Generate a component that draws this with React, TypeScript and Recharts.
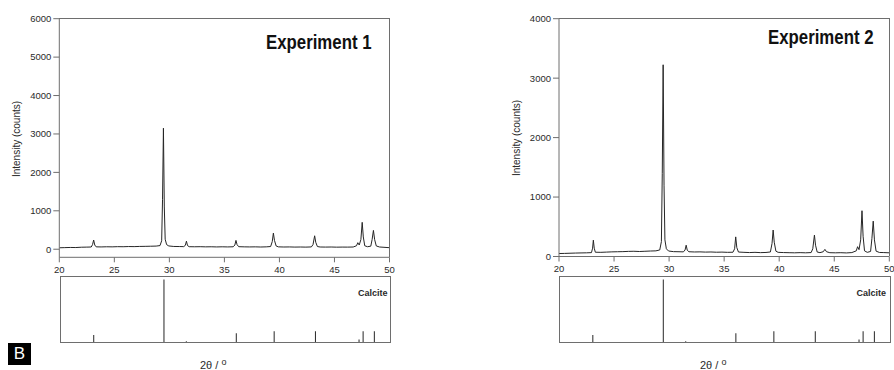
import React from "react";
import { LineChart, Line, XAxis, YAxis, ComposedChart, Bar } from "recharts";

const FONT = '"Liberation Sans", Arial, Helvetica, sans-serif';
const AXIS = "#6e6e6e";
const TRACE = "#262626";
const TEXT = "#2a2a2a";

// 2-theta ticks shared by both diffractograms
const twoThetaTicks = [20, 25, 30, 35, 40, 45, 50];
const exp1YTicks = [0, 1000, 2000, 3000, 4000, 5000, 6000];
const exp2YTicks = [0, 1000, 2000, 3000, 4000];

// [2theta, counts]
const exp1Trace: [number, number][] = [
  [20.0, 38], [20.5, 42], [21.0, 46], [21.5, 44], [22.0, 52], [22.5, 55], [22.9, 58],
  [23.02, 120], [23.12, 240], [23.22, 110], [23.35, 62], [23.8, 60], [24.3, 64], [24.8, 62],
  [25.3, 67], [25.8, 65], [26.3, 70], [26.8, 68], [27.3, 73], [27.8, 75], [28.3, 78], [28.8, 82],
  [29.15, 95], [29.3, 220], [29.38, 1300], [29.46, 3150], [29.54, 1100], [29.62, 260], [29.75, 120],
  [29.95, 85], [30.4, 72], [30.9, 70], [31.3, 68], [31.45, 100], [31.55, 210], [31.65, 95],
  [31.8, 66], [32.3, 64], [32.8, 66], [33.3, 62], [33.8, 64], [34.3, 60], [34.8, 63], [35.3, 60],
  [35.8, 64], [35.95, 110], [36.05, 230], [36.15, 120], [36.3, 66], [36.8, 62], [37.3, 60],
  [37.8, 62], [38.3, 58], [38.8, 62], [39.2, 70], [39.35, 200], [39.45, 420], [39.55, 230],
  [39.7, 85], [39.9, 62], [40.4, 58], [40.9, 60], [41.4, 56], [41.9, 58], [42.4, 55], [42.9, 60],
  [43.05, 120], [43.2, 350], [43.3, 180], [43.45, 70], [43.7, 58], [44.2, 56], [44.7, 58],
  [45.2, 54], [45.7, 56], [46.2, 55], [46.7, 58], [47.0, 90], [47.12, 170], [47.25, 110],
  [47.4, 250], [47.52, 700], [47.62, 320], [47.75, 90], [48.0, 65], [48.3, 80], [48.42, 250],
  [48.54, 490], [48.65, 250], [48.8, 85], [49.1, 58], [49.5, 50], [50.0, 40],
];

const exp2Trace: [number, number][] = [
  [20.0, 50], [20.5, 52], [21.0, 55], [21.5, 58], [22.0, 60], [22.5, 62], [22.95, 65],
  [23.05, 140], [23.12, 275], [23.2, 140], [23.3, 72], [23.8, 70], [24.3, 74], [24.8, 78],
  [25.3, 80], [25.8, 82], [26.3, 86], [26.8, 88], [27.3, 84], [27.8, 88], [28.3, 92], [28.8, 95],
  [29.15, 110], [29.3, 250], [29.38, 1400], [29.46, 3225], [29.54, 1200], [29.62, 280],
  [29.75, 130], [29.95, 92], [30.4, 82], [30.9, 80], [31.3, 78], [31.45, 110], [31.55, 190],
  [31.65, 105], [31.8, 80], [32.3, 76], [32.8, 78], [33.3, 74], [33.8, 76], [34.3, 72], [34.8, 74],
  [35.3, 70], [35.8, 72], [35.95, 130], [36.05, 330], [36.15, 150], [36.3, 75], [36.8, 70],
  [37.3, 66], [37.8, 70], [38.3, 65], [38.8, 68], [39.2, 76], [39.35, 220], [39.45, 445],
  [39.55, 240], [39.7, 90], [39.9, 70], [40.4, 66], [40.9, 64], [41.4, 62], [41.9, 65],
  [42.4, 62], [42.9, 66], [43.05, 130], [43.2, 360], [43.3, 190], [43.45, 75], [43.7, 65],
  [44.0, 80], [44.15, 120], [44.3, 80], [44.6, 64], [45.1, 62], [45.6, 64], [46.1, 60],
  [46.6, 66], [47.0, 95], [47.12, 165], [47.25, 115], [47.4, 280], [47.52, 770], [47.62, 340],
  [47.75, 95], [48.0, 70], [48.3, 85], [48.42, 300], [48.54, 595], [48.65, 280], [48.8, 90],
  [49.1, 68], [49.5, 66], [50.0, 62],
];

// calcite reference pattern (relative intensity)
const calciteAngles = [23.02, 29.4, 31.43, 35.97, 39.41, 43.16, 47.12, 47.49, 48.51];
const calciteIntensity = [12, 100, 2, 15, 18, 18, 5, 18, 18];

const sticks = calciteAngles.map((x, i) => ({ x, i: calciteIntensity[i] }));

const tickStyle = { fill: TEXT, fontSize: 9.5, fontFamily: FONT };

type TraceProps = {
  left: number;
  width: number;
  marginRight: number;
  marginBottom: number;
  yWidth: number;
  trace: [number, number][];
  yDomain: [number, number];
  yTicks: number[];
};

function TraceChart({ left, width, marginRight, marginBottom, yWidth, trace, yDomain, yTicks }: TraceProps) {
  const data = trace.map(([x, y]) => ({ x, y }));
  const plotLeft = left + yWidth;
  const plotRight = left + width - marginRight;
  const plotBottom = 290 - marginBottom - 30;
  return (
    <>
      <div style={{ position: "absolute", left, top: 0 }}>
        <LineChart
          width={width}
          height={290}
          data={data}
          margin={{ top: 18.7, right: marginRight, bottom: marginBottom, left: 0 }}
        >
          <XAxis
            dataKey="x"
            type="number"
            domain={[20, 50]}
            ticks={twoThetaTicks}
            interval={0}
            height={30}
            tickSize={5}
            tickMargin={4}
            stroke={AXIS}
            tick={tickStyle}
            allowDataOverflow
          />
          <YAxis
            type="number"
            domain={yDomain}
            ticks={yTicks}
            interval={0}
            width={yWidth}
            tickSize={6}
            tickMargin={2}
            stroke={AXIS}
            tick={tickStyle}
            allowDataOverflow
          />
          <Line dataKey="y" type="linear" stroke={TRACE} strokeWidth={1} dot={false} isAnimationActive={false} />
        </LineChart>
      </div>
      {/* top and right frame of the plot box */}
      <div style={{
        position: "absolute", left: plotLeft, top: 18.2, width: plotRight - plotLeft + 0.5,
        height: plotBottom - 18.2, borderTop: `1px solid ${AXIS}`, borderRight: `1px solid ${AXIS}`,
        boxSizing: "border-box",
      }} />
    </>
  );
}

function StickChart({ left, width }: { left: number; width: number }) {
  return (
    <>
      <div style={{ position: "absolute", left, top: 276.7 }}>
        <ComposedChart width={width} height={65.6} data={sticks} margin={{ top: 0, right: 0, bottom: 0, left: 0 }}>
          <XAxis dataKey="x" type="number" domain={[20, 50]} hide />
          <YAxis type="number" domain={[0, 104]} hide />
          <Bar dataKey="i" barSize={1} fill={TRACE} isAnimationActive={false} />
        </ComposedChart>
      </div>
      <div style={{
        position: "absolute", left: left - 0.5, top: 276.2, width: width + 1, height: 66.6,
        border: `1px solid ${AXIS}`, boxSizing: "border-box",
      }} />
    </>
  );
}

const abs = (s: React.CSSProperties): React.CSSProperties => ({
  position: "absolute",
  fontFamily: FONT,
  color: TEXT,
  whiteSpace: "nowrap",
  lineHeight: 1,
  ...s,
});

function YLabel({ cx, cy }: { cx: number; cy: number }) {
  return (
    <div style={abs({ left: cx, top: cy, fontSize: 10, transform: "translate(-50%, -50%) rotate(-90deg)" })}>
      Intensity (counts)
    </div>
  );
}

function XLabel({ left }: { left: number }) {
  return (
    <div style={abs({ left, top: 360, fontSize: 11 })}>
      2θ / <span style={{ fontSize: 9, position: "relative", top: -4 }}>o</span>
    </div>
  );
}

export default function App() {
  return (
    <div style={{ position: "absolute", left: 0, top: 0, width: 894, height: 370, background: "#fff" }}>
      <TraceChart left={0} width={400} marginRight={10.5} marginBottom={2.7} yWidth={59.3}
        trace={exp1Trace} yDomain={[-210, 6000]} yTicks={exp1YTicks} />
      <TraceChart left={500} width={394} marginRight={4.7} marginBottom={3.5} yWidth={59}
        trace={exp2Trace} yDomain={[0, 4000]} yTicks={exp2YTicks} />

      <StickChart left={60} width={330.3} />
      <StickChart left={559.3} width={331.4} />

      <div style={abs({ left: 266, top: 31.5, fontSize: 20, fontWeight: 700, color: "#111",
        transform: "scaleX(0.84)", transformOrigin: "left top" })}>Experiment 1</div>
      <div style={abs({ left: 768, top: 26.5, fontSize: 20, fontWeight: 700, color: "#111",
        transform: "scaleX(0.84)", transformOrigin: "left top" })}>Experiment 2</div>

      <div style={abs({ right: 894 - 387.5, top: 289, fontSize: 9, fontWeight: 700 })}>Calcite</div>
      <div style={abs({ right: 894 - 886, top: 289, fontSize: 9, fontWeight: 700 })}>Calcite</div>

      <YLabel cx={17} cy={138.5} />
      <YLabel cx={516.7} cy={138} />

      <XLabel left={200} />
      <XLabel left={700} />

      <div style={abs({ left: 8, top: 342.5, width: 23, height: 22.5, background: "#000", color: "#fff",
        fontSize: 17, lineHeight: "22.5px", textAlign: "center" })}>B</div>
    </div>
  );
}
